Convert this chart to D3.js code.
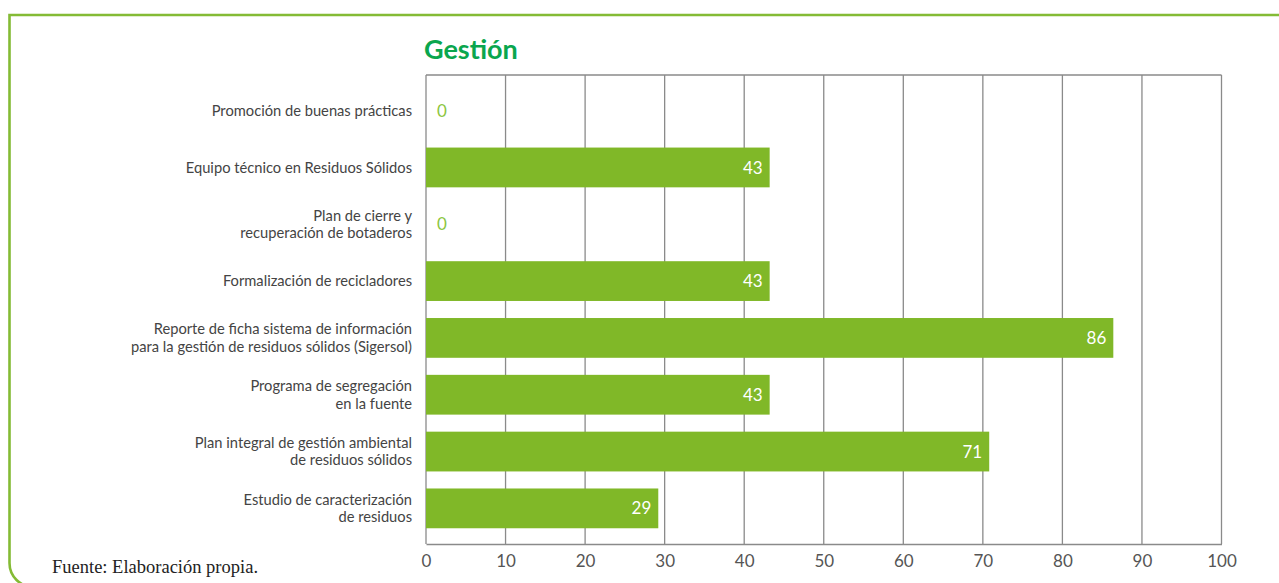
<!DOCTYPE html>
<html>
<head>
<meta charset="utf-8">
<script src="https://cdn.jsdelivr.net/npm/d3@7"></script>
<style>
  html, body { margin: 0; padding: 0; background: #fff; }
  svg { display: block; }
</style>
</head>
<body>
<svg id="chart" width="1279" height="583"></svg>
<script>
// ---- data ----
const categories = [
  "Promoción de buenas prácticas",
  "Equipo técnico en Residuos Sólidos",
  "Plan de cierre y\nrecuperación de botaderos",
  "Formalización de recicladores",
  "Reporte de ficha sistema de información\npara la gestión de residuos sólidos (Sigersol)",
  "Programa de segregación\nen la fuente",
  "Plan integral de gestión ambiental\nde residuos sólidos",
  "Estudio de caracterización\nde residuos"
];
const values = [0, 43.2, 0, 43.2, 86.4, 43.2, 70.8, 29.2];
const xTicks = [0, 10, 20, 30, 40, 50, 60, 70, 80, 90, 100];
const chartTitle = "Gestión";
const sourceNote = "Fuente: Elaboración propia.";

// ---- drawing ----
(function () {
const svg = d3.select("#chart");
const W = 1279;
const pLeft = 426, pRight = 1221.5, pTop = 75, pBottom = 544;

const x = d3.scaleLinear().domain([0, 100]).range([pLeft, pRight]);
const y = d3.scaleBand().domain(d3.range(categories.length))
  .range([pTop, pBottom]).paddingInner(0.3).paddingOuter(0.277);

const green = "#80b828";
const gridCol = "#8a8a8a";

// outer frame (top + left with rounded bottom corner)
svg.append("path")
  .attr("d", `M${W + 10},15 H9.5 V563 A24,24 0 0 0 33.5,587`)
  .attr("fill", "none").attr("stroke", "#84bb35").attr("stroke-width", 2.6);

// title
svg.append("text").attr("x", 424).attr("y", 58.5)
  .attr("font-family", "Lato, sans-serif").attr("font-weight", 700)
  .attr("font-size", 27).attr("fill", "#0aa64e").text(chartTitle);

// gridlines
svg.append("g").selectAll("line").data(xTicks).join("line")
  .attr("x1", d => x(d)).attr("x2", d => x(d))
  .attr("y1", pTop).attr("y2", pBottom)
  .attr("stroke", gridCol).attr("stroke-width", 1.3);
svg.append("line").attr("x1", pLeft).attr("x2", pRight).attr("y1", pTop).attr("y2", pTop)
  .attr("stroke", gridCol).attr("stroke-width", 1.3);

// bars
svg.append("g").selectAll("rect").data(values).join("rect")
  .attr("x", x(0)).attr("y", (d, i) => y(i))
  .attr("width", d => x(d) - x(0)).attr("height", y.bandwidth())
  .attr("fill", green);

// bottom axis
const xAxis = d3.axisBottom(x).tickValues(xTicks).tickSize(0).tickPadding(11)
  .tickFormat(d3.format("d"));
const gx = svg.append("g").attr("transform", `translate(0,${pBottom})`).call(xAxis);
gx.select(".domain").attr("stroke", gridCol).attr("stroke-width", 1.3);
gx.selectAll("text").attr("font-family", "Lato, sans-serif").attr("font-size", 17)
  .attr("fill", "#555");

// value labels
const fmt = d3.format(".0f");
svg.append("g").selectAll("text").data(values).join("text")
  .attr("x", d => d > 0 ? x(d) - 7 : x(0) + 11)
  .attr("y", (d, i) => y(i) + y.bandwidth() / 2)
  .attr("dy", "0.36em")
  .attr("text-anchor", d => d > 0 ? "end" : "start")
  .attr("font-family", "Lato, sans-serif").attr("font-size", 17)
  .attr("fill", d => d > 0 ? "#ffffff" : "#8cc63f")
  .text(d => fmt(d));

// category labels
const lineH = 17.5;
const catG = svg.append("g");
categories.forEach((c, i) => {
  const lines = c.split("\n");
  const cy = y(i) + y.bandwidth() / 2;
  const t = catG.append("text")
    .attr("text-anchor", "end")
    .attr("font-family", "Lato, sans-serif").attr("font-size", 14.7)
    .attr("fill", "#444");
  lines.forEach((l, k) => {
    t.append("tspan").attr("x", pLeft - 14)
      .attr("y", cy + (k - (lines.length - 1) / 2) * lineH)
      .attr("dy", "0.35em").text(l);
  });
});

// source
svg.append("text").attr("x", 52).attr("y", 573)
  .attr("font-family", "'Liberation Serif', serif").attr("font-size", 18.5)
  .attr("fill", "#222").text(sourceNote);
})();
</script>
</body>
</html>
